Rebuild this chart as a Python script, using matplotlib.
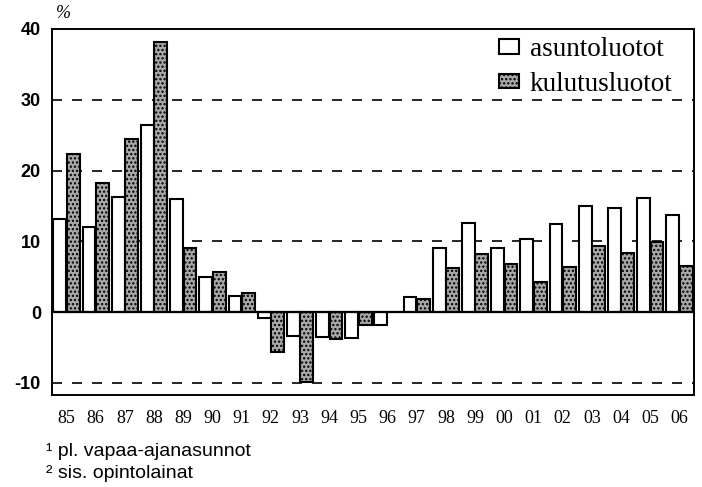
import numpy as np
import matplotlib
matplotlib.use('Agg')
import matplotlib.pyplot as plt

years = ['85', '86', '87', '88', '89', '90', '91', '92', '93', '94', '95',
         '96', '97', '98', '99', '00', '01', '02', '03', '04', '05', '06']
asuntoluotot = [13.1, 12.0, 16.2, 26.4, 16.0, 5.0, 2.3, -0.8, -3.4, -3.5, -3.6,
                -1.8, 2.2, 9.0, 12.6, 9.1, 10.4, 12.4, 15.0, 14.7, 16.1, 13.7]
kulutusluotot = [22.4, 18.3, 24.4, 38.1, 9.1, 5.7, 2.7, -5.6, -9.9, -3.8, -1.8,
                 0.0, 1.8, 6.3, 8.2, 6.8, 4.3, 6.4, 9.4, 8.3, 9.9, 6.5]
yticks = [-10, 0, 10, 20, 30, 40]
footnotes = ['\u00b9 pl. vapaa-ajanasunnot', '\u00b2 sis. opintolainat']

plt.rcParams['hatch.linewidth'] = 1.1

fig = plt.figure(figsize=(7.02, 4.87), dpi=100)
ax = fig.add_axes([52 / 702, 1 - 395 / 487, 642 / 702, 366 / 487])

x = np.arange(len(years))
w = 0.44
ax.bar(x - 0.23, asuntoluotot, w, color='white', edgecolor='black',
       linewidth=1.5, zorder=3, label='asuntoluotot')
ax.bar(x + 0.23, kulutusluotot, w, color='#a8a8a8', edgecolor='black',
       hatch='....', linewidth=1.5, zorder=3, label='kulutusluotot')

# dashed guide lines, solid zero line
for yv in [-10, 10, 20, 30]:
    ax.axhline(yv, color='black', linestyle=(0, (6, 6)), linewidth=1.2, zorder=1)
ax.axhline(0, color='black', linewidth=1.6, zorder=4)

ax.set_xlim(-0.5, len(years) - 0.5)
ax.set_ylim(-11.7, 40)
ax.set_xticks(x)
ax.set_xticklabels(years, family='Liberation Serif', fontsize=13)
ax.set_yticks(yticks)
ax.set_yticklabels([str(v) for v in yticks], family='Liberation Sans',
                   fontsize=13, fontweight='bold')
ax.tick_params(axis='x', length=0, pad=11)
ax.tick_params(axis='y', length=0, pad=8)
for s in ax.spines.values():
    s.set_linewidth(1.4)

fig.text(56 / 702, 1 - 14 / 487, '%', family='Liberation Serif', style='italic',
         fontsize=13, va='center', ha='left')

leg = ax.legend(loc='upper right', frameon=False, prop={'family': 'Liberation Serif', 'size': 19.5},
                handlelength=0.75, handleheight=0.45, handletextpad=0.4, labelspacing=0.35,
                borderaxespad=0.2, bbox_to_anchor=(0.992, 1.022))

fig.text(46 / 702, 1 - 452 / 487, footnotes[0], family='Liberation Sans', fontsize=14,
         va='center', ha='left')
fig.text(46 / 702, 1 - 473 / 487, footnotes[1], family='Liberation Sans', fontsize=14,
         va='center', ha='left')

fig.savefig('out.png', dpi=100)
